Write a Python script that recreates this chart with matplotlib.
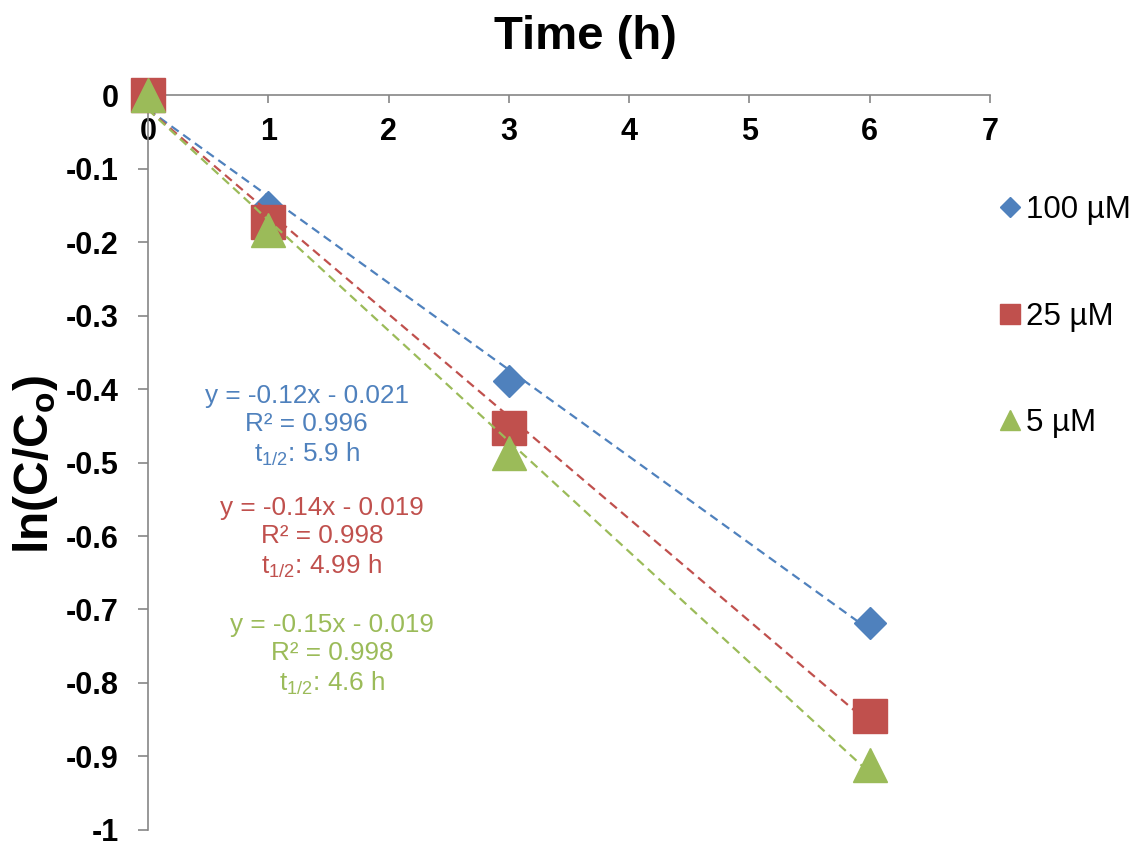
import numpy as np
import matplotlib
matplotlib.use("Agg")
import matplotlib.pyplot as plt

plt.rcParams['font.family'] = ['Liberation Sans', 'DejaVu Sans']
plt.rcParams['mathtext.fontset'] = 'custom'
plt.rcParams['mathtext.rm'] = 'Liberation Sans'
plt.rcParams['mathtext.bf'] = 'Liberation Sans:bold'

# data
time_h = [0, 1, 3, 6]
ln_100uM = [0.0, -0.152, -0.389, -0.718]
ln_25uM = [0.0, -0.173, -0.453, -0.845]
ln_5uM = [0.0, -0.184, -0.487, -0.912]

labels = ['100 µM', '25 µM', '5 µM']
eq_texts = [
    'y = -0.12x - 0.021\nR² = 0.996\nt$_{\\mathrm{1/2}}$: 5.9 h',
    'y = -0.14x - 0.019\nR² = 0.998\nt$_{\\mathrm{1/2}}$: 4.99 h',
    'y = -0.15x - 0.019\nR² = 0.998\nt$_{\\mathrm{1/2}}$: 4.6 h',
]
eq_pos = [(1.32, -0.450), (1.446, -0.603), (1.53, -0.762)]

colors = ['#4F81BD', '#C0504D', '#9BBB59']
markers = ['D', 's', '^']
msizes = [16.8, 23.8, 23.8]

fig = plt.figure(figsize=(11.35, 8.41), dpi=100)
ax = fig.add_axes([0.1304, 0.0131, 0.7419, 0.8739])

series = [ln_100uM, ln_25uM, ln_5uM]
x = np.array(time_h, dtype=float)
for i, ys in enumerate(series):
    ys = np.array(ys)
    # linear trendline like Excel
    k, b = np.polyfit(x, ys, 1)
    xt = np.array([0, 6])
    ax.plot(xt, k * xt + b, color=colors[i], lw=1.6,
            linestyle=(0, (4, 2.5)), zorder=2 * i + 2)
    ax.plot(x, ys, linestyle='none', marker=markers[i], ms=msizes[i],
            color=colors[i], mec=colors[i], label=labels[i],
            clip_on=False, zorder=2 * i + 3)
    ax.text(eq_pos[i][0], eq_pos[i][1], eq_texts[i], color=colors[i],
            fontsize=18.8, ha='center', va='center', multialignment='center',
            linespacing=1.2)

ax.set_xlim(0, 7)
ax.set_ylim(-1, 0)
ax.set_xticks(range(0, 8))
ax.set_yticks(np.arange(-1, 0.01, 0.1))
ax.set_yticklabels(['-1', '-0.9', '-0.8', '-0.7', '-0.6', '-0.5', '-0.4',
                    '-0.3', '-0.2', '-0.1', '0'])

for s in ['top', 'right']:
    ax.spines[s].set_visible(False)
ax.spines['bottom'].set_position(('data', 0))
for s in ['bottom', 'left']:
    ax.spines[s].set_color('#868686')
    ax.spines[s].set_linewidth(1.2)

ax.tick_params(axis='x', direction='out', length=5.5, width=1.2,
               color='#868686', pad=10, labelsize=22)
ax.tick_params(axis='y', direction='out', length=7, width=1.2,
               color='#868686', pad=14, labelsize=22)
for lbl in ax.get_xticklabels() + ax.get_yticklabels():
    lbl.set_fontweight('bold')

fig.text(0.516, 0.956, 'Time (h)', fontsize=34, fontweight='bold',
         ha='center', va='center')
fig.text(0.031, 0.447, '$\\mathbf{ln(C/C_o)}$', fontsize=34.5, rotation=90,
         ha='center', va='center')

ax.legend(loc='upper left', bbox_to_anchor=(0.881, 0.768),
          bbox_transform=fig.transFigure, frameon=False, borderaxespad=0,
          borderpad=0, fontsize=22.5, markerscale=0.6, numpoints=1,
          handlelength=0.65, handletextpad=0.2, labelspacing=2.45)

fig.savefig('out.png', dpi=100)
